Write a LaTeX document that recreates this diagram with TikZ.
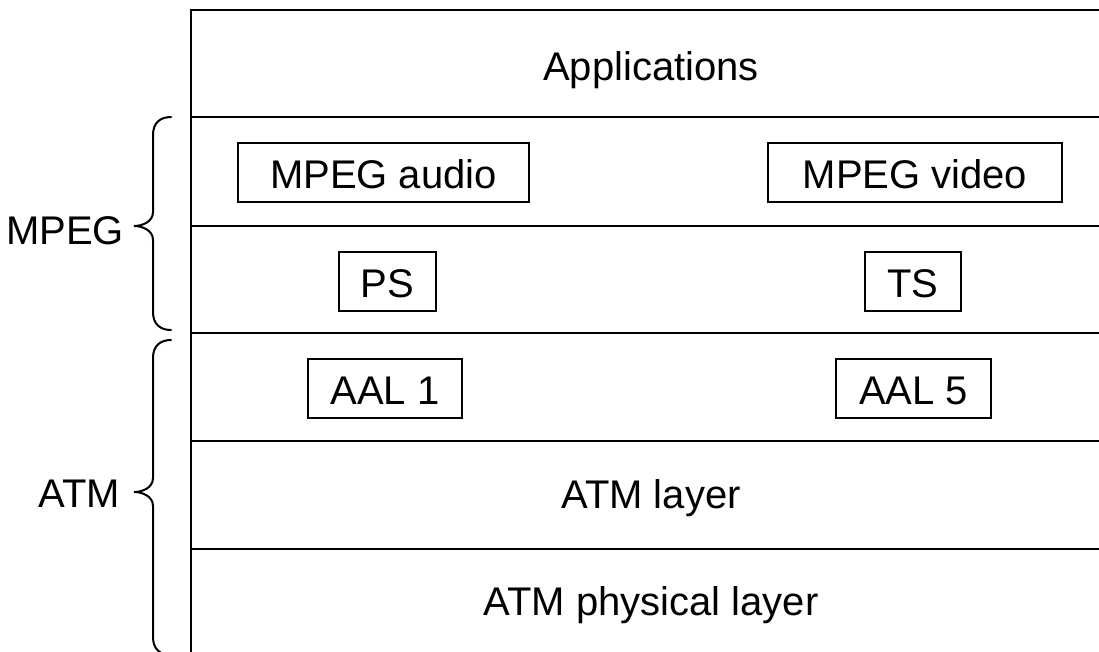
\documentclass[tikz,border=0pt]{standalone}
\usepackage{fontspec}
\setmainfont{Liberation Sans}
\begin{document}
\begin{tikzpicture}[x=1pt,y=-1pt,
  frame/.style={line width=2.2pt},
  lbl/.style={font=\fontsize{40}{48}\selectfont, inner sep=0pt},
  box/.style={draw, line width=2.2pt, lbl, minimum height=59pt, text height=31pt, text depth=0pt},
  brace/.style={line width=2pt, line cap=round}]
\useasboundingbox (0,0) rectangle (1099,651);
% frame
\draw[frame] (1110,10) -- (191,10) -- (191,665);
\foreach \y in {117,226,333,441,549} \draw[frame] (191,\y) -- (1110,\y);
% layer labels
\node[lbl, anchor=base] (app) at (651,80) {Applications};
\node[lbl, anchor=base] (atml) at (651,508) {ATM layer};
\node[lbl, anchor=base] (phy) at (651,615) {ATM physical layer};
% boxes
\node[box, minimum width=291pt] (audio) at (383.5,172.5) {MPEG audio};
\node[box, minimum width=294pt] (video) at (915,172.5) {MPEG video};
\node[box, minimum width=97pt] (ps) at (387.5,281.5) {PS};
\node[box, minimum width=96pt] (ts) at (913,281.5) {TS};
\node[box, minimum width=154pt] (aal1) at (385,388.5) {AAL 1};
\node[box, minimum width=155pt] (aal5) at (913.5,388.5) {AAL 5};
% braces
\draw[brace] (171,117) .. controls (160,117) and (153,123) .. (153,135) -- (153,212)
  .. controls (153,222) and (142,226) .. (134,226)
  .. controls (142,226) and (153,230) .. (153,240) -- (153,312)
  .. controls (153,324) and (160,330) .. (171,330);
\draw[brace] (171,340) .. controls (160,340) and (153,346) .. (153,358) -- (153,478)
  .. controls (153,488) and (142,492) .. (134,492)
  .. controls (142,492) and (153,496) .. (153,506) -- (153,637)
  .. controls (153,649) and (160,655) .. (171,655);
\node[lbl, anchor=base east] (mpeg) at (124,244) {MPEG};
\node[lbl, anchor=base east] (atm) at (120,507) {ATM};
\end{tikzpicture}
\end{document}
